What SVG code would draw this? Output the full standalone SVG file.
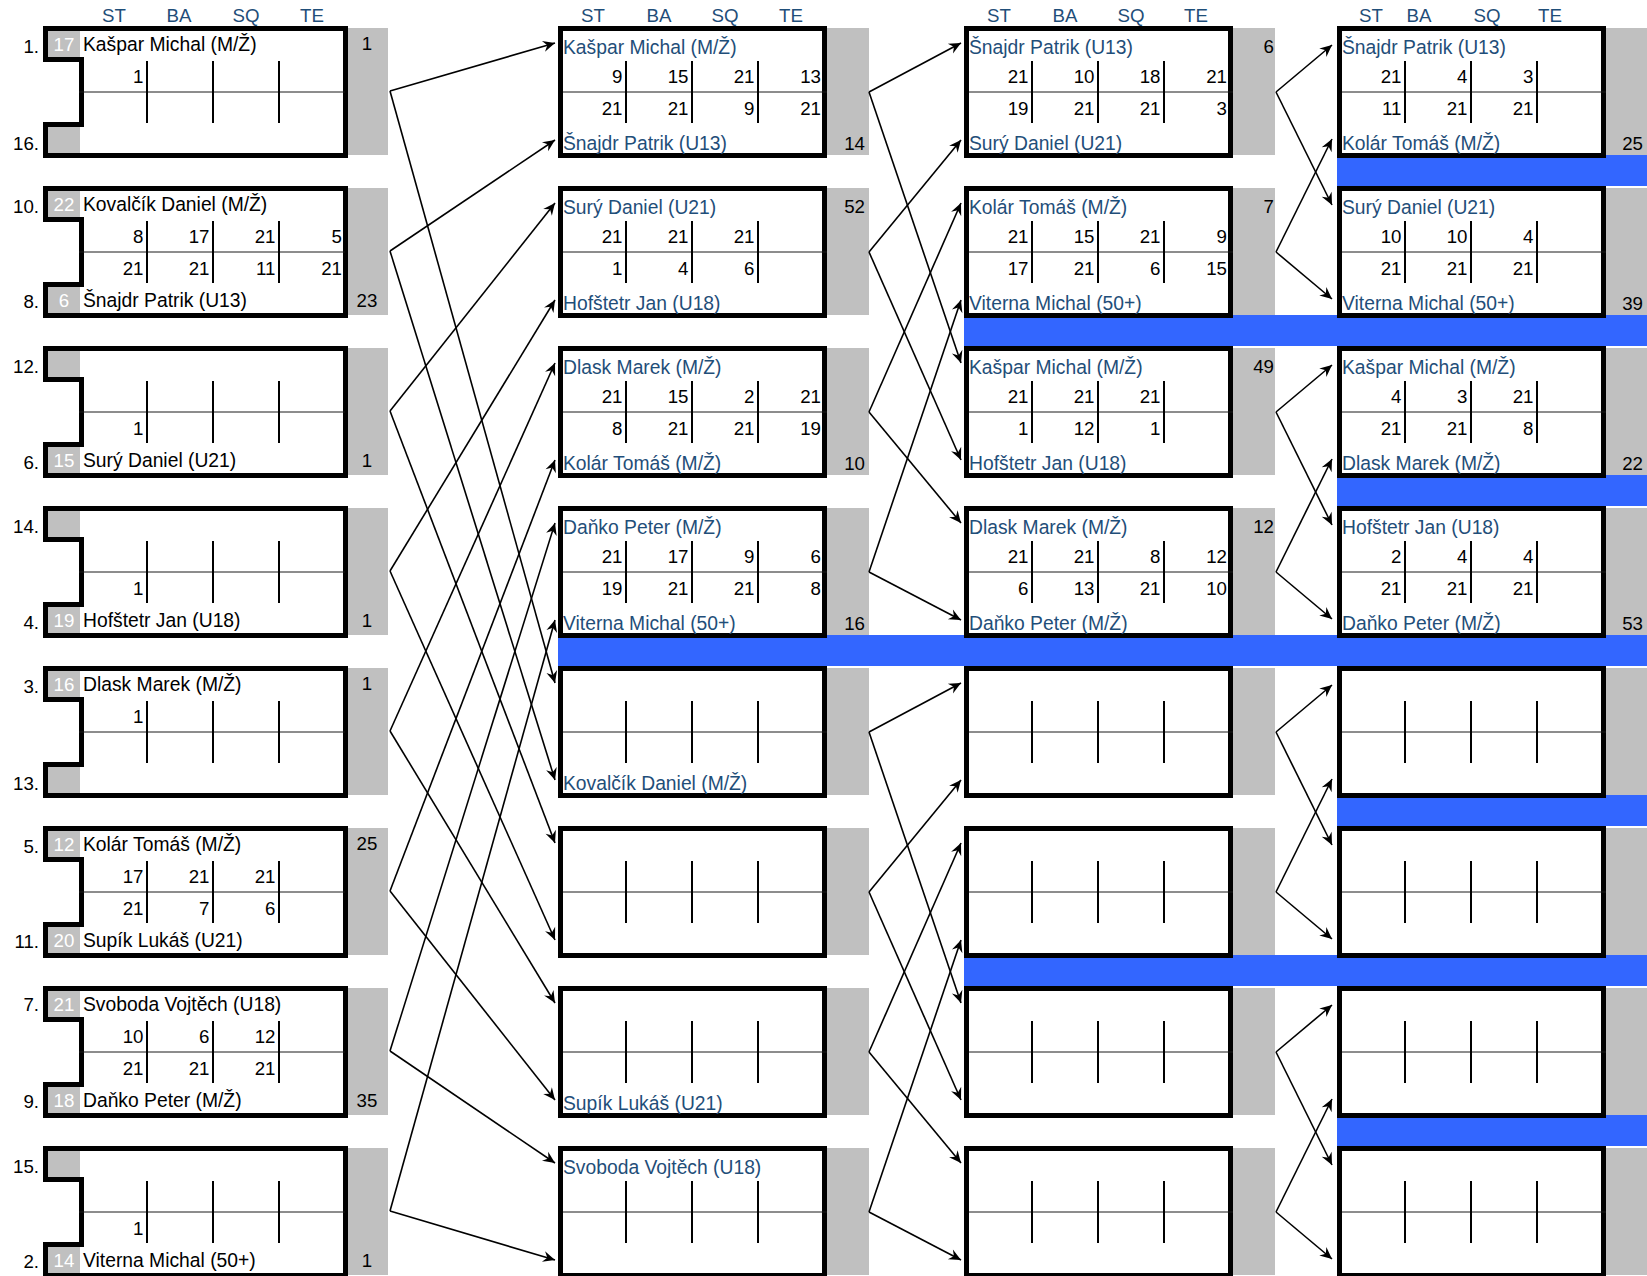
<svg xmlns="http://www.w3.org/2000/svg" xmlns:xlink="http://www.w3.org/1999/xlink" width="1647" height="1276" viewBox="0 0 1647 1276">
<style>
text{font-family:"Liberation Sans",Arial,sans-serif;font-size:18.7px;fill:#000}
.bx{fill:#fff;stroke:#000;stroke-width:5}
.gp{fill:#c0c0c0}
.bl{fill:#3366ff}
.ml{stroke:#1a1a1a;stroke-width:1}
.dv{stroke:#000;stroke-width:2}
.n{fill:#1f4e79;font-size:19.3px}
.nm{font-size:19.3px}
.hd{fill:#1f4e79;text-anchor:middle}
.s{text-anchor:end}
.sl{text-anchor:end}
.sd{fill:#fff;text-anchor:middle}
.pc{text-anchor:middle}
.pe{text-anchor:end}
.cn path{fill:none;stroke:#000;stroke-width:1.6;marker-end:url(#ah)}
</style>
<defs>
<marker id="ah" viewBox="-13 -6 14 12" refX="0" refY="0" markerWidth="14" markerHeight="12" markerUnits="userSpaceOnUse" orient="auto"><path d="M0,0 L-12,-5.5 L-8,0 L-12,5.5 Z" fill="#000"/></marker>
<g id="fA">
<rect class="gp" x="305" y="2" width="40" height="127"/>
<path class="bx" d="M2.5,2.5 H302.5 V129.5 H2.5 V98.5 H38.5 V33.5 H2.5 Z"/>
<rect class="gp" x="5" y="5" width="32" height="26"/>
<rect class="gp" x="5" y="101" width="32" height="26"/>
<line class="ml" x1="36" y1="66" x2="302" y2="66"/>
<line class="dv" x1="104" y1="35" x2="104" y2="97"/>
<line class="dv" x1="170" y1="35" x2="170" y2="97"/>
<line class="dv" x1="236" y1="35" x2="236" y2="97"/>
</g>
<g id="fB">
<rect class="gp" x="269" y="2" width="42" height="127"/>
<rect class="bx" x="2.5" y="2.5" width="264" height="127"/>
<line class="ml" x1="5" y1="66" x2="269" y2="66"/>
<line class="dv" x1="68" y1="35" x2="68" y2="97"/>
<line class="dv" x1="134" y1="35" x2="134" y2="97"/>
<line class="dv" x1="200" y1="35" x2="200" y2="97"/>
</g>
</defs>
<rect width="1647" height="1276" fill="#fff"/>
<g id="bars">
<rect class="bl" x="1337" y="155" width="310" height="31"/>
<rect class="bl" x="964" y="315" width="683" height="31"/>
<rect class="bl" x="1337" y="475" width="310" height="31"/>
<rect class="bl" x="558" y="635" width="1089" height="31"/>
<rect class="bl" x="1337" y="795" width="310" height="31"/>
<rect class="bl" x="964" y="955" width="683" height="31"/>
<rect class="bl" x="1337" y="1115" width="310" height="31"/>
</g>
<g id="headers">
<text class="hd" x="114" y="22">ST</text><text class="hd" x="179" y="22">BA</text><text class="hd" x="246" y="22">SQ</text><text class="hd" x="312" y="22">TE</text>
<text class="hd" x="593" y="22">ST</text><text class="hd" x="659" y="22">BA</text><text class="hd" x="725" y="22">SQ</text><text class="hd" x="791" y="22">TE</text>
<text class="hd" x="999" y="22">ST</text><text class="hd" x="1065" y="22">BA</text><text class="hd" x="1131" y="22">SQ</text><text class="hd" x="1196" y="22">TE</text>
<text class="hd" x="1371" y="22">ST</text><text class="hd" x="1419" y="22">BA</text><text class="hd" x="1487" y="22">SQ</text><text class="hd" x="1550" y="22">TE</text>
</g>
<!-- Column 1 -->
<g id="c1b1" transform="translate(43,26)"><use xlink:href="#fA"/>
<text class="sl" x="-4" y="27">1.</text><text class="sl" x="-4" y="124">16.</text>
<text class="sd" x="21" y="25">17</text>
<text class="nm" x="40" y="25">Kašpar Michal (M/Ž)</text>
<text class="s" x="100.5" y="57">1</text>
<text class="pc" x="324" y="24">1</text></g>
<g id="c1b2" transform="translate(43,186)"><use xlink:href="#fA"/>
<text class="sl" x="-4" y="27">10.</text><text class="sl" x="-4" y="122">8.</text>
<text class="sd" x="21" y="25">22</text><text class="sd" x="21" y="121">6</text>
<text class="nm" x="40" y="25">Kovalčík Daniel (M/Ž)</text><text class="nm" x="40" y="121">Šnajdr Patrik (U13)</text>
<text class="s" x="100.5" y="57">8</text><text class="s" x="166.5" y="57">17</text><text class="s" x="232.5" y="57">21</text><text class="s" x="299" y="57">5</text>
<text class="s" x="100.5" y="89">21</text><text class="s" x="166.5" y="89">21</text><text class="s" x="232.5" y="89">11</text><text class="s" x="299" y="89">21</text>
<text class="pc" x="324" y="121">23</text></g>
<g id="c1b3" transform="translate(43,346)"><use xlink:href="#fA"/>
<text class="sl" x="-4" y="27">12.</text><text class="sl" x="-4" y="123">6.</text>
<text class="sd" x="21" y="121">15</text>
<text class="nm" x="40" y="121">Surý Daniel (U21)</text>
<text class="s" x="100.5" y="89">1</text>
<text class="pc" x="324" y="121">1</text></g>
<g id="c1b4" transform="translate(43,506)"><use xlink:href="#fA"/>
<text class="sl" x="-4" y="27">14.</text><text class="sl" x="-4" y="123">4.</text>
<text class="sd" x="21" y="121">19</text>
<text class="nm" x="40" y="121">Hofštetr Jan (U18)</text>
<text class="s" x="100.5" y="89">1</text>
<text class="pc" x="324" y="121">1</text></g>
<g id="c1b5" transform="translate(43,666)"><use xlink:href="#fA"/>
<text class="sl" x="-4" y="27">3.</text><text class="sl" x="-4" y="124">13.</text>
<text class="sd" x="21" y="25">16</text>
<text class="nm" x="40" y="25">Dlask Marek (M/Ž)</text>
<text class="s" x="100.5" y="57">1</text>
<text class="pc" x="324" y="24">1</text></g>
<g id="c1b6" transform="translate(43,826)"><use xlink:href="#fA"/>
<text class="sl" x="-4" y="27">5.</text><text class="sl" x="-4" y="122">11.</text>
<text class="sd" x="21" y="25">12</text><text class="sd" x="21" y="121">20</text>
<text class="nm" x="40" y="25">Kolár Tomáš (M/Ž)</text><text class="nm" x="40" y="121">Supík Lukáš (U21)</text>
<text class="s" x="100.5" y="57">17</text><text class="s" x="166.5" y="57">21</text><text class="s" x="232.5" y="57">21</text>
<text class="s" x="100.5" y="89">21</text><text class="s" x="166.5" y="89">7</text><text class="s" x="232.5" y="89">6</text>
<text class="pc" x="324" y="24">25</text></g>
<g id="c1b7" transform="translate(43,986)"><use xlink:href="#fA"/>
<text class="sl" x="-4" y="25">7.</text><text class="sl" x="-4" y="122">9.</text>
<text class="sd" x="21" y="25">21</text><text class="sd" x="21" y="121">18</text>
<text class="nm" x="40" y="25">Svoboda Vojtěch (U18)</text><text class="nm" x="40" y="121">Daňko Peter (M/Ž)</text>
<text class="s" x="100.5" y="57">10</text><text class="s" x="166.5" y="57">6</text><text class="s" x="232.5" y="57">12</text>
<text class="s" x="100.5" y="89">21</text><text class="s" x="166.5" y="89">21</text><text class="s" x="232.5" y="89">21</text>
<text class="pc" x="324" y="121">35</text></g>
<g id="c1b8" transform="translate(43,1146)"><use xlink:href="#fA"/>
<text class="sl" x="-4" y="27">15.</text><text class="sl" x="-4" y="122">2.</text>
<text class="sd" x="21" y="121">14</text>
<text class="nm" x="40" y="121">Viterna Michal (50+)</text>
<text class="s" x="100.5" y="89">1</text>
<text class="pc" x="324" y="121">1</text></g>
<!-- Column 2 -->
<g id="c2b1" transform="translate(558,26)"><use xlink:href="#fB"/>
<text class="n" x="5" y="27.5">Kašpar Michal (M/Ž)</text><text class="n" x="5" y="124">Šnajdr Patrik (U13)</text>
<text class="s" x="64.5" y="57">9</text><text class="s" x="130.5" y="57">15</text><text class="s" x="196.5" y="57">21</text><text class="s" x="263" y="57">13</text>
<text class="s" x="64.5" y="89">21</text><text class="s" x="130.5" y="89">21</text><text class="s" x="196.5" y="89">9</text><text class="s" x="263" y="89">21</text>
<text class="pe" x="307" y="124">14</text></g>
<g id="c2b2" transform="translate(558,186)"><use xlink:href="#fB"/>
<text class="n" x="5" y="27.5">Surý Daniel (U21)</text><text class="n" x="5" y="124">Hofštetr Jan (U18)</text>
<text class="s" x="64.5" y="57">21</text><text class="s" x="130.5" y="57">21</text><text class="s" x="196.5" y="57">21</text>
<text class="s" x="64.5" y="89">1</text><text class="s" x="130.5" y="89">4</text><text class="s" x="196.5" y="89">6</text>
<text class="pe" x="307" y="27">52</text></g>
<g id="c2b3" transform="translate(558,346)"><use xlink:href="#fB"/>
<text class="n" x="5" y="27.5">Dlask Marek (M/Ž)</text><text class="n" x="5" y="124">Kolár Tomáš (M/Ž)</text>
<text class="s" x="64.5" y="57">21</text><text class="s" x="130.5" y="57">15</text><text class="s" x="196.5" y="57">2</text><text class="s" x="263" y="57">21</text>
<text class="s" x="64.5" y="89">8</text><text class="s" x="130.5" y="89">21</text><text class="s" x="196.5" y="89">21</text><text class="s" x="263" y="89">19</text>
<text class="pe" x="307" y="124">10</text></g>
<g id="c2b4" transform="translate(558,506)"><use xlink:href="#fB"/>
<text class="n" x="5" y="27.5">Daňko Peter (M/Ž)</text><text class="n" x="5" y="124">Viterna Michal (50+)</text>
<text class="s" x="64.5" y="57">21</text><text class="s" x="130.5" y="57">17</text><text class="s" x="196.5" y="57">9</text><text class="s" x="263" y="57">6</text>
<text class="s" x="64.5" y="89">19</text><text class="s" x="130.5" y="89">21</text><text class="s" x="196.5" y="89">21</text><text class="s" x="263" y="89">8</text>
<text class="pe" x="307" y="124">16</text></g>
<g id="c2b5" transform="translate(558,666)"><use xlink:href="#fB"/>
<text class="n" x="5" y="124">Kovalčík Daniel (M/Ž)</text></g>
<g id="c2b6" transform="translate(558,826)"><use xlink:href="#fB"/></g>
<g id="c2b7" transform="translate(558,986)"><use xlink:href="#fB"/>
<text class="n" x="5" y="124">Supík Lukáš (U21)</text></g>
<g id="c2b8" transform="translate(558,1146)"><use xlink:href="#fB"/>
<text class="n" x="5" y="27.5">Svoboda Vojtěch (U18)</text></g>
<!-- Column 3 -->
<g id="c3b1" transform="translate(964,26)"><use xlink:href="#fB"/>
<text class="n" x="5" y="27.5">Šnajdr Patrik (U13)</text><text class="n" x="5" y="124">Surý Daniel (U21)</text>
<text class="s" x="64.5" y="57">21</text><text class="s" x="130.5" y="57">10</text><text class="s" x="196.5" y="57">18</text><text class="s" x="263" y="57">21</text>
<text class="s" x="64.5" y="89">19</text><text class="s" x="130.5" y="89">21</text><text class="s" x="196.5" y="89">21</text><text class="s" x="263" y="89">3</text>
<text class="pe" x="310" y="27">6</text></g>
<g id="c3b2" transform="translate(964,186)"><use xlink:href="#fB"/>
<text class="n" x="5" y="27.5">Kolár Tomáš (M/Ž)</text><text class="n" x="5" y="124">Viterna Michal (50+)</text>
<text class="s" x="64.5" y="57">21</text><text class="s" x="130.5" y="57">15</text><text class="s" x="196.5" y="57">21</text><text class="s" x="263" y="57">9</text>
<text class="s" x="64.5" y="89">17</text><text class="s" x="130.5" y="89">21</text><text class="s" x="196.5" y="89">6</text><text class="s" x="263" y="89">15</text>
<text class="pe" x="310" y="27">7</text></g>
<g id="c3b3" transform="translate(964,346)"><use xlink:href="#fB"/>
<text class="n" x="5" y="27.5">Kašpar Michal (M/Ž)</text><text class="n" x="5" y="124">Hofštetr Jan (U18)</text>
<text class="s" x="64.5" y="57">21</text><text class="s" x="130.5" y="57">21</text><text class="s" x="196.5" y="57">21</text>
<text class="s" x="64.5" y="89">1</text><text class="s" x="130.5" y="89">12</text><text class="s" x="196.5" y="89">1</text>
<text class="pe" x="310" y="27">49</text></g>
<g id="c3b4" transform="translate(964,506)"><use xlink:href="#fB"/>
<text class="n" x="5" y="27.5">Dlask Marek (M/Ž)</text><text class="n" x="5" y="124">Daňko Peter (M/Ž)</text>
<text class="s" x="64.5" y="57">21</text><text class="s" x="130.5" y="57">21</text><text class="s" x="196.5" y="57">8</text><text class="s" x="263" y="57">12</text>
<text class="s" x="64.5" y="89">6</text><text class="s" x="130.5" y="89">13</text><text class="s" x="196.5" y="89">21</text><text class="s" x="263" y="89">10</text>
<text class="pe" x="310" y="27">12</text></g>
<g id="c3b5" transform="translate(964,666)"><use xlink:href="#fB"/></g>
<g id="c3b6" transform="translate(964,826)"><use xlink:href="#fB"/></g>
<g id="c3b7" transform="translate(964,986)"><use xlink:href="#fB"/></g>
<g id="c3b8" transform="translate(964,1146)"><use xlink:href="#fB"/></g>
<!-- Column 4 -->
<g id="c4b1" transform="translate(1337,26)"><use xlink:href="#fB"/>
<text class="n" x="5" y="27.5">Šnajdr Patrik (U13)</text><text class="n" x="5" y="124">Kolár Tomáš (M/Ž)</text>
<text class="s" x="64.5" y="57">21</text><text class="s" x="130.5" y="57">4</text><text class="s" x="196.5" y="57">3</text>
<text class="s" x="64.5" y="89">11</text><text class="s" x="130.5" y="89">21</text><text class="s" x="196.5" y="89">21</text>
<text class="pe" x="306" y="124">25</text></g>
<g id="c4b2" transform="translate(1337,186)"><use xlink:href="#fB"/>
<text class="n" x="5" y="27.5">Surý Daniel (U21)</text><text class="n" x="5" y="124">Viterna Michal (50+)</text>
<text class="s" x="64.5" y="57">10</text><text class="s" x="130.5" y="57">10</text><text class="s" x="196.5" y="57">4</text>
<text class="s" x="64.5" y="89">21</text><text class="s" x="130.5" y="89">21</text><text class="s" x="196.5" y="89">21</text>
<text class="pe" x="306" y="124">39</text></g>
<g id="c4b3" transform="translate(1337,346)"><use xlink:href="#fB"/>
<text class="n" x="5" y="27.5">Kašpar Michal (M/Ž)</text><text class="n" x="5" y="124">Dlask Marek (M/Ž)</text>
<text class="s" x="64.5" y="57">4</text><text class="s" x="130.5" y="57">3</text><text class="s" x="196.5" y="57">21</text>
<text class="s" x="64.5" y="89">21</text><text class="s" x="130.5" y="89">21</text><text class="s" x="196.5" y="89">8</text>
<text class="pe" x="306" y="124">22</text></g>
<g id="c4b4" transform="translate(1337,506)"><use xlink:href="#fB"/>
<text class="n" x="5" y="27.5">Hofštetr Jan (U18)</text><text class="n" x="5" y="124">Daňko Peter (M/Ž)</text>
<text class="s" x="64.5" y="57">2</text><text class="s" x="130.5" y="57">4</text><text class="s" x="196.5" y="57">4</text>
<text class="s" x="64.5" y="89">21</text><text class="s" x="130.5" y="89">21</text><text class="s" x="196.5" y="89">21</text>
<text class="pe" x="306" y="124">53</text></g>
<g id="c4b5" transform="translate(1337,666)"><use xlink:href="#fB"/></g>
<g id="c4b6" transform="translate(1337,826)"><use xlink:href="#fB"/></g>
<g id="c4b7" transform="translate(1337,986)"><use xlink:href="#fB"/></g>
<g id="c4b8" transform="translate(1337,1146)"><use xlink:href="#fB"/></g>
<!-- Connectors -->
<g id="connectors" class="cn">
<path d="M390,91 L555,43"/><path d="M390,91 L555,683"/>
<path d="M390,251 L555,140"/><path d="M390,251 L555,780"/>
<path d="M390,411 L555,203"/><path d="M390,411 L555,843"/>
<path d="M390,571 L555,300"/><path d="M390,571 L555,940"/>
<path d="M390,731 L555,363"/><path d="M390,731 L555,1003"/>
<path d="M390,891 L555,460"/><path d="M390,891 L555,1100"/>
<path d="M390,1051 L555,523"/><path d="M390,1051 L555,1163"/>
<path d="M390,1211 L555,620"/><path d="M390,1211 L555,1260"/>
<path d="M869,92 L961,43"/><path d="M869,92 L961,363"/>
<path d="M869,252 L961,140"/><path d="M869,252 L961,460"/>
<path d="M869,412 L961,203"/><path d="M869,412 L961,523"/>
<path d="M869,572 L961,300"/><path d="M869,572 L961,620"/>
<path d="M869,732 L961,683"/><path d="M869,732 L961,1003"/>
<path d="M869,892 L961,780"/><path d="M869,892 L961,1100"/>
<path d="M869,1052 L961,843"/><path d="M869,1052 L961,1163"/>
<path d="M869,1212 L961,940"/><path d="M869,1212 L961,1260"/>
<path d="M1276,92 L1332,45"/><path d="M1276,92 L1332,205"/>
<path d="M1276,252 L1332,139"/><path d="M1276,252 L1332,299"/>
<path d="M1276,412 L1332,365"/><path d="M1276,412 L1332,525"/>
<path d="M1276,572 L1332,459"/><path d="M1276,572 L1332,619"/>
<path d="M1276,732 L1332,685"/><path d="M1276,732 L1332,845"/>
<path d="M1276,892 L1332,779"/><path d="M1276,892 L1332,939"/>
<path d="M1276,1052 L1332,1005"/><path d="M1276,1052 L1332,1165"/>
<path d="M1276,1212 L1332,1099"/><path d="M1276,1212 L1332,1259"/>
</g>
</svg>
